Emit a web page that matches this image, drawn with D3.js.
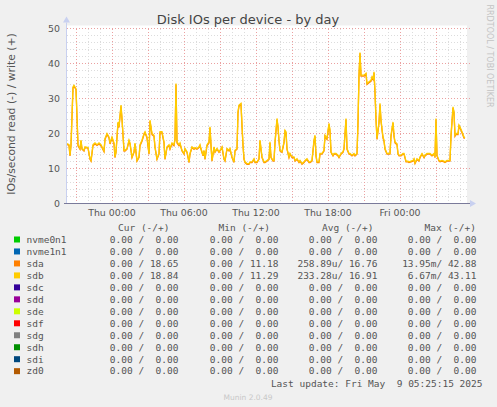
<!DOCTYPE html>
<html>
<head>
<meta charset="utf-8">
<script src="https://cdn.jsdelivr.net/npm/d3@7"></script>
<style>
html,body{margin:0;padding:0;background:#f0f0f0;}
svg{display:block;}
text{font-family:"DejaVu Sans",sans-serif;}
.mono{font-family:"DejaVu Sans Mono",monospace;white-space:pre;}
</style>
</head>
<body>
<svg id="chart" width="497" height="407"></svg>
<script>
// ---------- data ----------
const times = [
"07 20:15","07 20:25","07 20:30","07 20:35","07 20:45","07 20:50","07 21:00","07 21:05","07 21:10","07 21:20",
"07 21:25","07 21:30","07 21:40","07 21:45","07 22:00","07 22:10","07 22:15","07 22:25","07 22:35","07 22:45",
"07 22:55","07 23:05","07 23:20","07 23:25","07 23:35","07 23:45","07 23:50","08 00:00","08 00:10","08 00:15",
"08 00:20","08 00:30","08 00:35","08 00:45","08 00:50","08 01:00","08 01:05","08 01:15","08 01:25","08 01:30",
"08 01:40","08 01:50","08 01:55","08 02:05","08 02:15","08 02:20","08 02:30","08 02:40","08 02:45","08 02:55",
"08 03:05","08 03:10","08 03:20","08 03:30","08 03:35","08 03:45","08 03:55","08 04:00","08 04:10","08 04:20",
"08 04:25","08 04:35","08 04:45","08 04:50","08 05:00","08 05:10","08 05:15","08 05:20","08 05:25","08 05:35",
"08 05:40","08 05:50","08 06:00","08 06:05","08 06:15","08 06:25","08 06:30","08 06:40","08 06:50","08 06:55",
"08 07:05","08 07:15","08 07:20","08 07:25","08 07:35","08 07:40","08 07:45","08 07:55","08 08:05","08 08:10",
"08 08:15","08 08:20","08 08:30","08 08:35","08 08:45","08 08:55","08 09:00","08 09:10","08 09:20","08 09:25",
"08 09:35","08 09:45","08 09:50","08 10:00","08 10:10","08 10:15","08 10:25","08 10:30","08 10:35","08 10:45",
"08 10:50","08 10:55","08 11:00","08 11:05","08 11:15","08 11:25","08 11:30","08 11:40","08 11:50","08 11:55",
"08 12:05","08 12:15","08 12:20","08 12:30","08 12:40","08 12:45","08 12:55","08 13:05","08 13:10","08 13:15",
"08 13:25","08 13:30","08 13:35","08 13:45","08 13:50","08 13:55","08 14:00","08 14:10","08 14:20","08 14:25",
"08 14:30","08 14:35","08 14:45","08 14:50","08 15:00","08 15:10","08 15:15","08 15:25","08 15:35","08 15:40",
"08 15:50","08 16:00","08 16:05","08 16:15","08 16:25","08 16:30","08 16:40","08 16:50","08 16:55","08 17:00",
"08 17:05","08 17:15","08 17:20","08 17:30","08 17:40","08 17:45","08 17:55","08 18:05","08 18:10","08 18:15",
"08 18:25","08 18:30","08 18:40","08 18:50","08 18:55","08 19:05","08 19:15","08 19:20","08 19:30","08 19:35",
"08 19:45","08 19:50","08 20:00","08 20:10","08 20:15","08 20:25","08 20:30","08 20:35","08 20:40","08 20:45",
"08 20:55","08 21:00","08 21:05","08 21:10","08 21:15","08 21:25","08 21:35","08 21:40","08 21:45","08 21:50",
"08 21:55","08 22:00","08 22:05","08 22:15","08 22:20","08 22:25","08 22:35","08 22:40","08 22:45","08 22:55",
"08 23:00","08 23:10","08 23:15","08 23:25","08 23:30","08 23:35","08 23:45","08 23:50","08 23:55","09 00:05",
"09 00:15","09 00:20","09 00:30","09 00:40","09 00:45","09 00:55","09 01:05","09 01:10","09 01:15","09 01:25",
"09 01:35","09 01:40","09 01:50","09 02:00","09 02:05","09 02:15","09 02:25","09 02:30","09 02:40","09 02:50",
"09 02:55","09 03:00","09 03:05","09 03:15","09 03:20","09 03:30","09 03:40","09 03:45","09 03:55","09 04:05",
"09 04:10","09 04:15","09 04:25","09 04:30","09 04:35","09 04:40","09 04:50","09 04:55","09 05:00","09 05:10",
"09 05:20","09 05:25"
];
const sdbWrite = [
17.1,16.8,13.8,16.8,33.3,33.8,32.8,25.0,16.8,15.7,
18.1,15.7,15.2,16.2,16.0,12.8,12.3,16.8,17.3,16.8,
17.3,16.8,15.0,18.6,20.0,19.0,17.3,19.0,17.3,13.3,
14.8,23.3,22.0,28.1,24.3,15.2,15.2,15.7,18.1,17.3,
13.3,14.8,17.3,12.3,13.3,16.8,18.1,20.0,20.5,19.0,
14.3,23.8,20.0,19.5,16.2,12.8,14.3,20.5,20.5,17.6,
12.8,16.2,16.8,15.7,17.3,16.8,18.6,34.3,17.6,16.8,
17.3,15.2,14.3,15.7,14.8,11.9,14.3,16.2,15.7,16.0,
15.7,16.2,16.8,15.7,13.8,15.2,12.8,16.8,17.6,21.9,
16.8,12.3,16.2,14.8,15.7,14.8,15.2,16.2,12.8,12.3,
15.7,15.2,15.7,13.3,11.9,15.2,15.7,26.2,28.1,28.6,
22.4,16.8,12.8,11.9,11.4,11.4,11.9,11.9,12.8,11.9,
11.9,12.8,18.1,13.3,11.9,11.9,12.3,12.8,17.6,13.3,
12.3,12.3,17.6,24.3,22.0,18.1,15.2,14.8,17.6,20.9,
20.5,15.7,13.3,14.3,13.3,13.3,12.3,12.8,11.9,12.3,
11.4,11.9,12.3,12.8,11.9,11.9,12.3,18.1,19.5,13.8,
11.9,11.9,14.3,14.3,15.2,19.5,18.6,22.9,20.9,14.8,
13.8,14.3,14.3,13.8,13.3,14.3,14.8,15.7,24.3,15.7,
14.3,14.3,13.8,14.3,13.8,14.3,23.3,36.7,43.1,36.7,
36.7,36.7,36.9,37.2,34.3,34.8,35.2,36.2,35.7,37.6,
31.9,24.3,18.6,23.3,28.6,23.8,19.0,18.1,15.7,14.3,
14.3,14.3,19.5,23.3,19.5,17.6,17.1,14.3,13.8,13.8,
14.3,14.3,12.1,12.1,11.9,12.1,12.3,12.8,11.6,12.8,
12.3,13.3,14.3,13.3,13.8,14.3,14.3,14.3,13.8,14.3,
13.3,24.3,13.8,12.3,12.1,12.3,12.1,11.9,12.3,12.3,
12.3,19.5,27.6,26.2,19.5,20.0,20.0,22.4,21.9,20.5,
19.0,18.8
];
const sdaWrite = [
16.9,16.6,13.6,16.5,33.0,33.5,32.5,24.6,16.5,15.5,
17.8,15.5,15.0,16.0,15.8,12.6,12.1,16.5,17.0,16.6,
17.0,16.5,14.8,18.3,19.7,18.7,17.0,18.7,17.0,13.1,
14.6,23.0,21.7,27.8,24.0,15.0,15.0,15.5,17.8,17.0,
13.1,14.6,17.0,12.1,13.1,16.5,17.8,19.7,20.2,18.7,
14.1,23.5,19.7,19.2,16.0,12.6,14.1,20.2,20.2,17.3,
12.6,16.0,16.5,15.5,17.0,16.5,18.3,34.0,17.3,16.5,
17.0,15.0,14.1,15.5,14.6,11.7,14.1,16.0,15.5,15.8,
15.5,16.0,16.5,15.5,13.6,15.0,12.6,16.5,17.3,21.6,
16.5,12.1,16.0,14.6,15.5,14.6,15.0,16.0,12.6,12.1,
15.5,15.0,15.5,13.1,11.7,15.0,15.5,25.9,27.8,28.3,
22.1,16.5,12.6,11.7,11.2,11.2,11.7,11.7,12.6,11.7,
11.7,12.6,17.8,13.1,11.7,11.7,12.1,12.6,17.3,13.1,
12.1,12.1,17.3,24.0,21.7,17.8,15.0,14.6,17.3,20.6,
20.2,15.5,13.1,14.1,13.1,13.1,12.1,12.6,11.7,12.1,
11.2,11.7,12.1,12.6,11.7,11.7,12.1,17.8,19.2,13.6,
11.7,11.7,14.1,14.1,15.0,19.2,18.3,22.6,20.6,14.6,
13.6,14.1,14.1,13.6,13.1,14.1,14.6,15.5,24.0,15.5,
14.1,14.1,13.6,14.1,13.6,14.1,23.0,36.4,42.9,36.4,
36.4,36.4,36.6,36.9,34.0,34.5,34.9,35.9,35.4,37.3,
31.6,24.0,18.3,23.0,28.3,23.5,18.7,17.8,15.5,14.1,
14.1,14.1,19.2,23.0,19.2,17.3,16.8,14.1,13.6,13.6,
14.1,14.1,11.9,11.9,11.7,11.9,12.1,12.6,11.4,12.6,
12.1,13.1,14.1,13.1,13.6,14.1,14.1,14.1,13.6,14.1,
13.1,24.0,13.6,12.1,11.9,12.1,11.9,11.7,12.1,12.1,
12.1,19.2,27.3,25.9,19.2,19.7,19.7,22.1,21.6,20.2,
18.7,18.65
];
const devices = ["nvme0n1","nvme1n1","sda","sdb","sdc","sdd","sde","sdf","sdg","sdh","sdi","zd0"];
const deviceColors = ["#00cc00","#0066b3","#ff8000","#ffcc00","#330099","#990099","#ccff00","#ff0000","#808080","#008f00","#00487d","#b35a00"];
const curCol = ["0.00 /  0.00","0.00 /  0.00","0.00 / 18.65","0.00 / 18.84","0.00 /  0.00","0.00 /  0.00","0.00 /  0.00","0.00 /  0.00","0.00 /  0.00","0.00 /  0.00","0.00 /  0.00","0.00 /  0.00"];
const minCol = ["0.00 /  0.00","0.00 /  0.00","0.00 / 11.18","0.00 / 11.29","0.00 /  0.00","0.00 /  0.00","0.00 /  0.00","0.00 /  0.00","0.00 /  0.00","0.00 /  0.00","0.00 /  0.00","0.00 /  0.00"];
const avgCol = ["0.00 /  0.00","0.00 /  0.00","258.89u/ 16.76","233.28u/ 16.91","0.00 /  0.00","0.00 /  0.00","0.00 /  0.00","0.00 /  0.00","0.00 /  0.00","0.00 /  0.00","0.00 /  0.00","0.00 /  0.00"];
const maxCol = ["0.00 /  0.00","0.00 /  0.00","13.95m/ 42.88","6.67m/ 43.11","0.00 /  0.00","0.00 /  0.00","0.00 /  0.00","0.00 /  0.00","0.00 /  0.00","0.00 /  0.00","0.00 /  0.00","0.00 /  0.00"];
const colHeaders = ["Cur (-/+)","Min (-/+)","Avg (-/+)","Max (-/+)"];
const yTicks = [0,10,20,30,40,50];
const xTickLabels = ["Thu 00:00","Thu 06:00","Thu 12:00","Thu 18:00","Fri 00:00"];
const xTickTimes = ["08 00:00","08 06:00","08 12:00","08 18:00","09 00:00"];
const domainTimes = ["07 20:15","09 05:35"];
const titleText = "Disk IOs per device - by day";
const yLabel = "IOs/second read (-) / write (+)";
const lastUpdate = "Last update: Fri May  9 05:25:15 2025";
const footer = "Munin 2.0.49";
const sideText = "RRDTOOL / TOBI OETIKER";

// ---------- drawing ----------
const parse = s => d3.timeParse("%Y-%m-%d %H:%M")("2025-05-" + s);
const svg = d3.select("#chart");
const L = 67, R = 467, T = 28.5, B = 203.5;
const x = d3.scaleTime().domain(domainTimes.map(parse)).range([L, R]);
const y = d3.scaleLinear().domain([0, 50]).range([B, T]);

svg.append("rect").attr("width",497).attr("height",407).attr("fill","#f0f0f0");
svg.append("rect").attr("x",L).attr("y",T-3).attr("width",R-L).attr("height",B-T+3).attr("fill","#ffffff");

// grids
const g = svg.append("g").attr("shape-rendering","crispEdges");
const minorY = d3.range(0, 51, 2).filter(v => v % 10 !== 0);
g.selectAll(".gy").data(minorY).join("line")
  .attr("x1",L).attr("x2",R).attr("y1",d=>Math.floor(y(d))+0.5).attr("y2",d=>Math.floor(y(d))+0.5)
  .attr("stroke","#dcdcdc").attr("stroke-dasharray","1,2");
const hours = d3.timeHour.range(x.domain()[0], x.domain()[1]);
g.selectAll(".gx").data(hours.filter(h => h.getHours() % 3 !== 0)).join("line")
  .attr("x1",d=>Math.round(x(d))+0.5).attr("x2",d=>Math.round(x(d))+0.5).attr("y1",T).attr("y2",B)
  .attr("stroke","#dcdcdc").attr("stroke-dasharray","1,2");
g.selectAll(".Gx").data(hours.filter(h => h.getHours() % 3 === 0)).join("line")
  .attr("x1",d=>Math.round(x(d))+0.5).attr("x2",d=>Math.round(x(d))+0.5).attr("y1",T).attr("y2",B)
  .attr("stroke","#eba0a0").attr("stroke-dasharray","1,2");
g.selectAll(".Gy").data(yTicks.filter(v=>v>0)).join("line")
  .attr("x1",L).attr("x2",R+3).attr("y1",d=>Math.floor(y(d))+0.5).attr("y2",d=>Math.floor(y(d))+0.5)
  .attr("stroke","#eba0a0").attr("stroke-dasharray","1,2");

// series
const pts = times.map(parse);
const line = d3.line().x(d=>x(d[0])).y(d=>y(d[1]));
devices.forEach((dev,i) => {
  svg.append("path").datum([[x.domain()[0],0],[x.domain()[1],0]])
    .attr("d",line).attr("fill","none").attr("stroke",deviceColors[i]).attr("stroke-width",1);
});
svg.append("path").datum(pts.map((t,i)=>[t,sdaWrite[i]]))
  .attr("d",line).attr("fill","none").attr("stroke",deviceColors[2]).attr("stroke-width",1.3);
svg.append("path").datum(pts.map((t,i)=>[t,sdbWrite[i]]))
  .attr("d",line).attr("fill","none").attr("stroke",deviceColors[3]).attr("stroke-width",1.3);

// axes
svg.append("line").attr("x1",L-0.5).attr("x2",L-0.5).attr("y1",B).attr("y2",T-6)
  .attr("stroke","#c8d0f0").attr("stroke-width",1);
svg.append("path").attr("d",`M${L-4},${T-6} L${L+3},${T-6} L${L-0.5},${T-12} Z`).attr("fill","#c8d0f0");
svg.append("line").attr("x1",L-3).attr("x2",R+3).attr("y1",y(0)).attr("y2",y(0))
  .attr("stroke","#7a7a9a").attr("stroke-width",1.2);
svg.append("path").attr("d",`M${R+3},${B-3.5} L${R+3},${B+3.5} L${R+9},${B} Z`).attr("fill","#c8d0f0");

// tick labels
svg.selectAll(".yt").data(yTicks).join("text")
  .attr("x",60).attr("y",d=>y(d)).attr("dy","0.35em").attr("text-anchor","end")
  .attr("font-size","9.4px").attr("fill","#555").text(d=>d);
svg.selectAll(".xt").data(xTickTimes).join("text")
  .attr("x",d=>x(parse(d))).attr("y",215.5).attr("text-anchor","middle")
  .attr("font-size","9.4px").attr("fill","#555").text((d,i)=>xTickLabels[i]);

// titles
svg.append("text").attr("x",248).attr("y",24).attr("text-anchor","middle")
  .attr("font-size","13px").attr("fill","#444").text(titleText);
svg.append("text").attr("transform","translate(15,114) rotate(-90)").attr("text-anchor","middle")
  .attr("font-size","10.8px").attr("fill","#555").text(yLabel);
svg.append("text").attr("transform","translate(487,56) rotate(90)").attr("text-anchor","middle")
  .attr("font-size","8px").attr("fill","#c4c4c4").text(sideText);

// legend
const rowY0 = 239.5, rowStep = 11.97;
const colEnds = [178.5, 278.5, 377.5, 476.5];
const headEnds = [169.5, 270, 373.5, 476];
svg.selectAll(".hd").data(colHeaders).join("text").attr("class","mono")
  .attr("x",(d,i)=>headEnds[i]).attr("y",rowY0-rowStep).attr("dy","0.35em").attr("text-anchor","end")
  .attr("font-size","9.5px").attr("fill","#555").text(d=>d);
const rows = svg.selectAll(".row").data(devices).join("g")
  .attr("transform",(d,i)=>`translate(0,${rowY0 + i*rowStep})`);
rows.append("rect").attr("x",14).attr("y",-3).attr("width",6).attr("height",6)
  .attr("fill",(d,i)=>deviceColors[i]);
rows.append("text").attr("class","mono").attr("x",26.5).attr("dy","0.35em")
  .attr("font-size","9.5px").attr("fill","#555").text(d=>d);
[curCol,minCol,avgCol,maxCol].forEach((col,ci) => {
  rows.append("text").attr("class","mono").attr("x",colEnds[ci]).attr("dy","0.35em").attr("text-anchor","end")
    .attr("font-size","9.5px").attr("fill","#555").text((d,i)=>col[i]);
});
svg.append("text").attr("class","mono").attr("x",482.5).attr("y",383.5).attr("dy","0.35em").attr("text-anchor","end")
  .attr("font-size","9.5px").attr("fill","#555").text(lastUpdate);
svg.append("text").attr("x",248).attr("y",397).attr("dy","0.35em").attr("text-anchor","middle")
  .attr("font-size","7.5px").attr("fill","#c8c8c8").text(footer);
</script>
</body>
</html>
